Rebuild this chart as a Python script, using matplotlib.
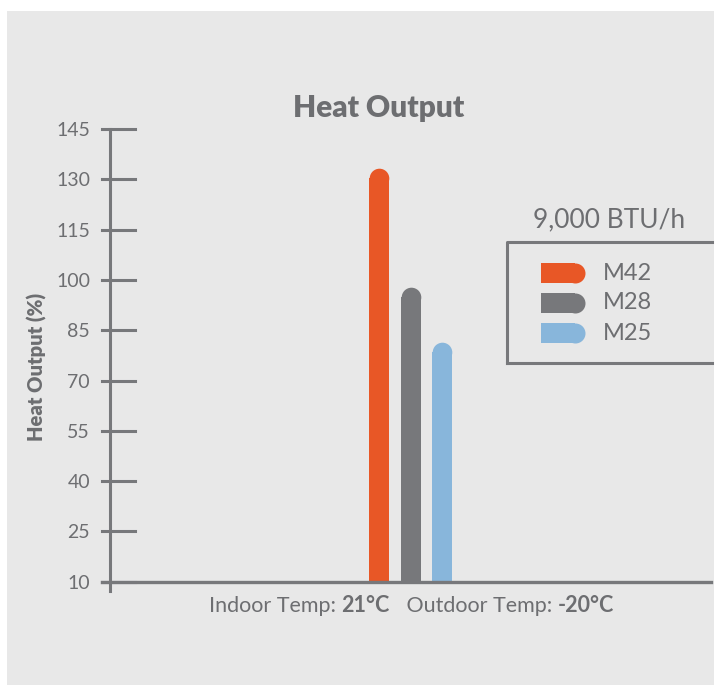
import matplotlib
matplotlib.use("Agg")
import matplotlib.pyplot as plt
from matplotlib.patches import Rectangle
from matplotlib.lines import Line2D
import numpy as np

# ---- data ----
series = ["M42", "M28", "M25"]
values = [133.4, 97.9, 81.5]
colors = ["#E85726", "#77787B", "#88B6DB"]
yticks = [10, 25, 40, 55, 70, 85, 100, 115, 130, 145]
title = "Heat Output"
ylabel = "Heat Output (%)"
legend_title = "9,000 BTU/h"
xlabel_parts = [("Indoor Temp: ", "normal"), ("21°C", "bold"),
                ("   Outdoor Temp: ", "normal"), ("-20°C", "bold")]

W, H = 715, 685
FONT = "Lato"
TXT = "#6D6E71"
AX = "#77787B"

fig = plt.figure(figsize=(W / 100, H / 100), dpi=100)
fig.patch.set_facecolor("white")

def fx(x):
    return x / W

def fy(y):
    return 1 - y / H

# background panel
fig.add_artist(Rectangle((fx(7), fy(685)), fx(714) - fx(7), fy(11) - fy(685),
                         transform=fig.transFigure, facecolor="#E8E8E8",
                         edgecolor="none", zorder=0))

left, right, top, bot = 110, 711, 129, 581.7
ax = fig.add_axes([fx(left), fy(bot), fx(right) - fx(left), fy(top) - fy(bot)])
ax.set_facecolor("none")
for s in ax.spines.values():
    s.set_visible(False)
ax.set_ylim(10, 145)
ax.set_xlim(-0.5, 0.5)
axw = right - left
axh = bot - top

# bars with rounded tops
bw = 20 / axw
step = 31.5 / axw
r_data = 10 / axh * 135
xs = (np.arange(len(values)) - 1) * step
for x, v, c in zip(xs, values, colors):
    ax.bar(x, v - r_data - 10, bottom=10, width=bw, color=c, zorder=3,
           linewidth=0)
    ax.plot([x], [v - r_data], marker="o", markersize=19.6 * 72 / 100,
            color=c, markeredgewidth=0, zorder=3)

# y ticks
ax.set_yticks(yticks)
ax.set_yticklabels([str(t) for t in yticks], fontfamily=FONT, fontsize=14,
                   color=TXT)
ax.tick_params(axis="y", length=0, pad=20 * 72 / 100)
ax.set_xticks([])
ytr = ax.get_yaxis_transform()
for t in yticks:
    ax.add_line(Line2D([-8 / axw, 25 / axw], [t, t], transform=ytr,
                       color=AX, lw=2.2, clip_on=False, zorder=4))
# spines drawn by hand
ax.add_line(Line2D([0, 0], [-9.3 / axh, 1], transform=ax.transAxes,
                   color=AX, lw=2.2, clip_on=False, zorder=4))
ax.add_line(Line2D([-8 / axw, 1], [0, 0], transform=ax.transAxes,
                   color=AX, lw=2.4, clip_on=False, zorder=5))

# title
fig.text(fx(378.5), fy(108), title, ha="center", va="center", fontfamily=FONT,
         fontweight="heavy", fontsize=21.5, color=TXT)
# y label
fig.text(fx(37), fy(367), ylabel, ha="center", va="center", rotation=90,
         fontfamily=FONT, fontweight="heavy", fontsize=14.5, color=TXT)

# x label with mixed weights
renderer = fig.canvas.get_renderer()
texts = []
for s, wgt in xlabel_parts:
    t = fig.text(0, fy(606), s, ha="left", va="center", fontfamily=FONT,
                 fontweight=wgt, fontsize=15.5, color=TXT)
    texts.append(t)
widths = [t.get_window_extent(renderer).width for t in texts]
total = sum(widths)
x0 = 411.5 - total / 2
for t, wd in zip(texts, widths):
    t.set_x(fx(x0))
    x0 += wd

# legend
fig.text(fx(609.5), fy(220), legend_title, ha="center", va="center",
         fontfamily=FONT, fontsize=19, color=TXT)
fig.add_artist(Line2D([fx(507), fx(507), fx(712)], [fy(363), fy(242), fy(242)],
                      transform=fig.transFigure, color=AX, lw=2.2))
fig.add_artist(Line2D([fx(507), fx(712)], [fy(363), fy(363)],
                      transform=fig.transFigure, color=AX, lw=2.2))
for i, (name, c) in enumerate(zip(series, colors)):
    yc = 273 + 30 * i
    fig.add_artist(Rectangle((fx(541), fy(yc + 10)), fx(575) - fx(541),
                             fy(yc - 10) - fy(yc + 10), transform=fig.transFigure,
                             facecolor=c, edgecolor="none"))
    fig.add_artist(Line2D([fx(575)], [fy(yc)], marker="o",
                          markersize=20 * 72 / 100, color=c, markeredgewidth=0,
                          transform=fig.transFigure))
    fig.text(fx(603), fy(yc), name, ha="left", va="center", fontfamily=FONT,
             fontsize=17, color=TXT)

fig.savefig("out.png", dpi=100)
